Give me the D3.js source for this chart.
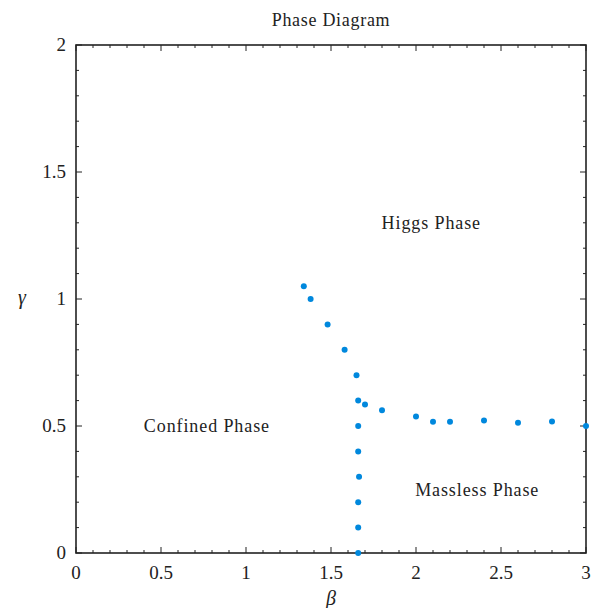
<!DOCTYPE html>
<html>
<head>
<meta charset="utf-8">
<script src="https://cdn.jsdelivr.net/npm/d3@7"></script>
<style>
body { margin: 0; background: #fff; }
text { font-family: "Liberation Serif", "DejaVu Serif", serif; fill: #222; }
</style>
</head>
<body>
<div id="chart"></div>
<script>
// transition points
var beta  = [1.34, 1.38, 1.48, 1.58, 1.65, 1.66, 1.70, 1.80, 2.0, 2.1, 2.2, 2.4, 2.6, 2.8, 3.0,
             1.66, 1.66, 1.665, 1.66, 1.66, 1.66];
var gamma = [1.05, 1.0, 0.9, 0.8, 0.7, 0.6, 0.585, 0.562, 0.537, 0.517, 0.517, 0.522, 0.513, 0.518, 0.5,
             0.5, 0.4, 0.3, 0.2, 0.1, 0.0];

var xTicks = [0, 0.5, 1, 1.5, 2, 2.5, 3];
var yTicks = [0, 0.5, 1, 1.5, 2];

var labels = [
    {text: "Higgs Phase", b: 2.09, g: 1.3},
    {text: "Confined Phase", b: 0.77, g: 0.5},
    {text: "Massless Phase", b: 2.36, g: 0.25}
];

var width = 592, height = 608;
var margin = {top: 45, right: 6, bottom: 55, left: 76};
var w = width - margin.left - margin.right;
var h = height - margin.top - margin.bottom;

var x = d3.scaleLinear().domain([0, 3]).range([0, w]);
var y = d3.scaleLinear().domain([0, 2]).range([h, 0]);

var svg = d3.select("#chart").append("svg")
    .attr("width", width)
    .attr("height", height);

var g = svg.append("g")
    .attr("transform", "translate(" + margin.left + "," + margin.top + ")");

var xMinor = d3.range(0, 3.0001, 0.1);
var yMinor = d3.range(0, 2.0001, 0.1);

// ticks on all four sides, pointing inward
var ticks = g.append("g").attr("stroke", "#222").attr("stroke-width", 1);
xMinor.forEach(function(v) {
    var major = Math.abs(v * 2 - Math.round(v * 2)) < 1e-6;
    var len = major ? 6 : 3;
    ticks.append("line").attr("x1", x(v)).attr("x2", x(v)).attr("y1", h).attr("y2", h - len);
    ticks.append("line").attr("x1", x(v)).attr("x2", x(v)).attr("y1", 0).attr("y2", len);
});
yMinor.forEach(function(v) {
    var major = Math.abs(v * 2 - Math.round(v * 2)) < 1e-6;
    var len = major ? 6 : 3;
    ticks.append("line").attr("y1", y(v)).attr("y2", y(v)).attr("x1", 0).attr("x2", len);
    ticks.append("line").attr("y1", y(v)).attr("y2", y(v)).attr("x1", w).attr("x2", w - len);
});

g.append("rect")
    .attr("width", w).attr("height", h)
    .attr("fill", "none").attr("stroke", "#222").attr("stroke-width", 1.6);

g.selectAll(".xt").data(xTicks).enter().append("text")
    .attr("x", function(d) { return x(d); })
    .attr("y", h + 26)
    .attr("text-anchor", "middle")
    .style("font-size", "19px")
    .text(function(d) { return d; });

g.selectAll(".yt").data(yTicks).enter().append("text")
    .attr("x", -10)
    .attr("y", function(d) { return y(d) + 6; })
    .attr("text-anchor", "end")
    .style("font-size", "19px")
    .text(function(d) { return d; });

svg.append("text")
    .attr("x", margin.left + x(1.5)).attr("y", 605)
    .attr("text-anchor", "middle")
    .style("font-size", "20px").style("font-style", "italic")
    .text("β");

svg.append("text")
    .attr("x", 22).attr("y", margin.top + y(1) + 5)
    .attr("text-anchor", "middle")
    .style("font-size", "20px").style("font-style", "italic")
    .text("γ");

svg.append("text")
    .attr("x", margin.left + w / 2).attr("y", 26)
    .attr("text-anchor", "middle")
    .style("font-size", "18px").style("letter-spacing", "0.7px")
    .text("Phase Diagram");

g.selectAll(".lbl").data(labels).enter().append("text")
    .attr("x", function(d) { return x(d.b); })
    .attr("y", function(d) { return y(d.g) + 6; })
    .attr("text-anchor", "middle")
    .style("font-size", "18px").style("letter-spacing", "0.9px")
    .text(function(d) { return d.text; });

g.selectAll("circle").data(beta).enter().append("circle")
    .attr("cx", function(d) { return x(d); })
    .attr("cy", function(d, i) { return y(gamma[i]); })
    .attr("r", 3)
    .attr("fill", "#0088dd");
</script>
</body>
</html>
